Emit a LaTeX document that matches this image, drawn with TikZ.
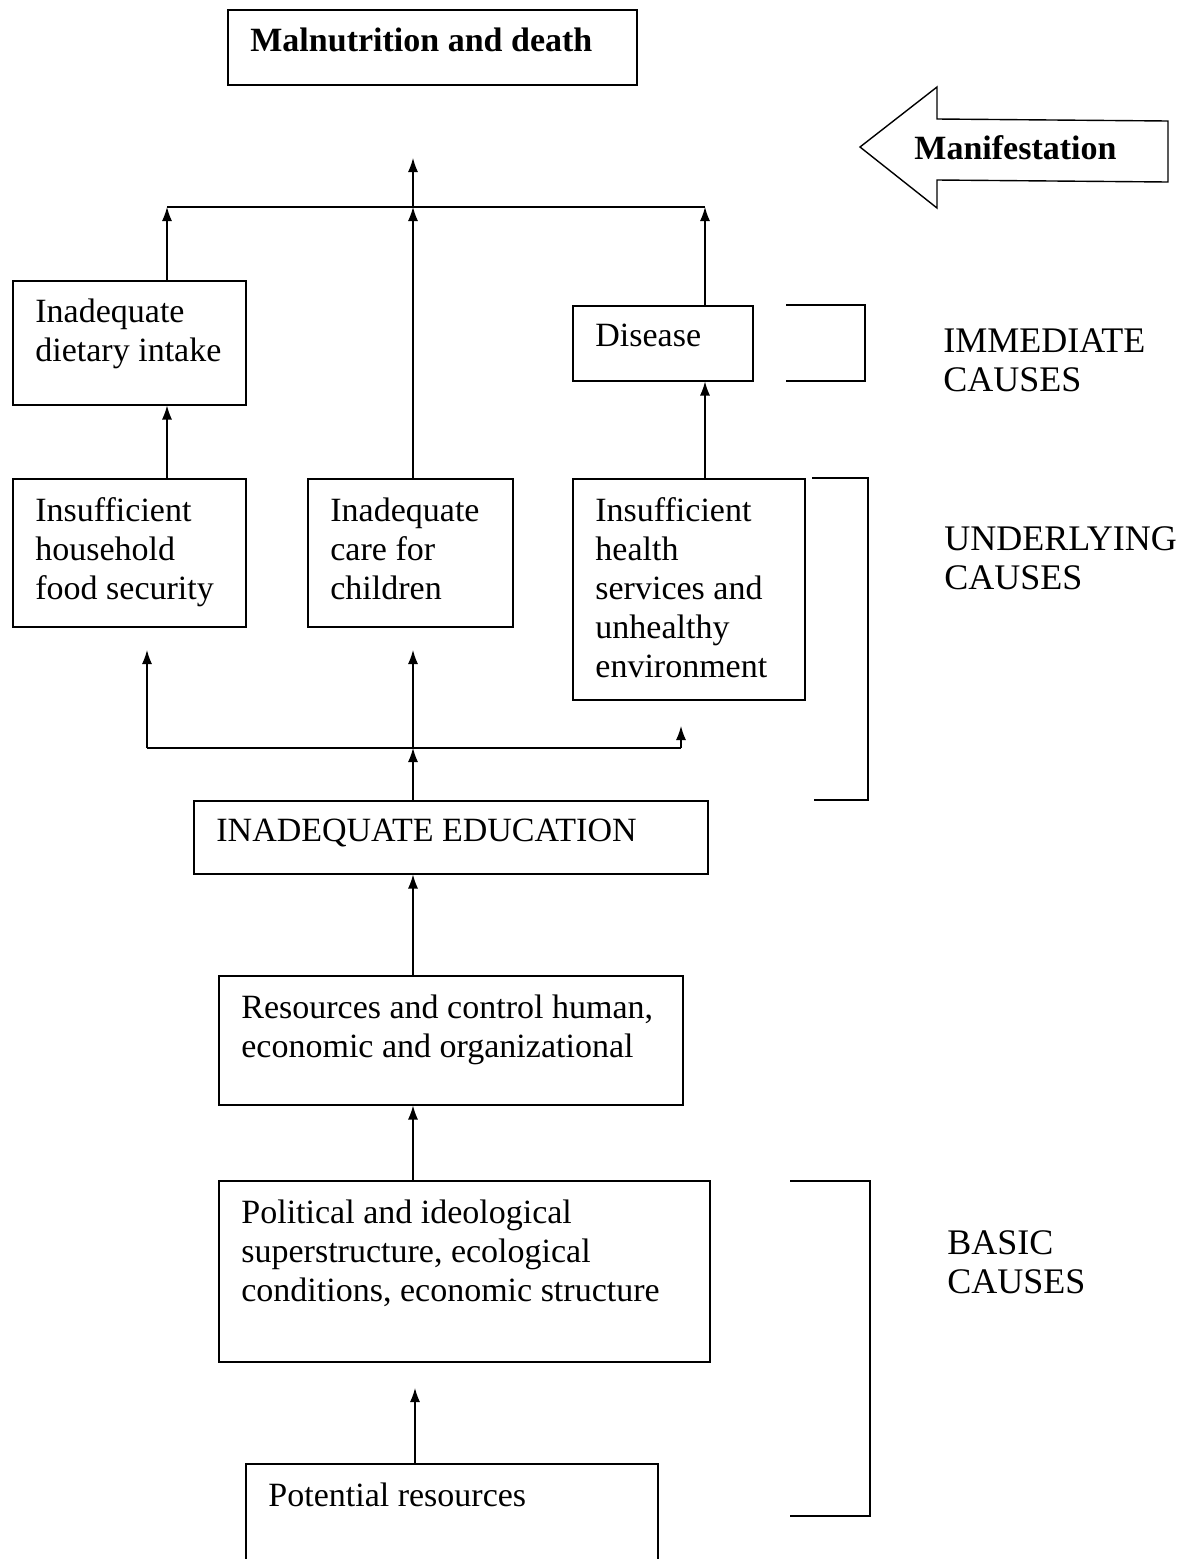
\documentclass[tikz,border=0pt]{standalone}
\usepackage{fontspec}
\setmainfont{Liberation Serif}
\usetikzlibrary{arrows.meta}
\begin{document}
\begin{tikzpicture}
[x=0.5pt,y=-0.5pt,
  boxdecorate/.style={shape=rectangle,draw,line width=0.75pt,inner sep=0pt},%
  textdecorate/.style={inner sep=0pt,align=left,font=\fontsize{17}{19.5}\selectfont},%
  sidedecorate/.style={textdecorate,font=\fontsize{18}{19.5}\selectfont},%
  linedecorate/.style={-,line width=0.6pt},%
  arrowdecorate/.style={-{Latex[length=7pt,width=5pt]},line width=0.6pt}]
\clip (0,0) rectangle (1195,1559);
%% boxes with their texts
\foreach \boxname/\x/\y/\w/\h/\txt in {
  death/227/9/409/75/{\textbf{Malnutrition and death}},
  diet/12/280/233/124/{Inadequate\\dietary intake},
  disease/572/305/180/75/{Disease},
  food/12/478/233/148/{Insufficient\\household\\food security},
  care/307/478/205/148/{Inadequate\\care for\\children},
  health/572/478/232/221/{Insufficient\\health\\services and\\unhealthy\\environment},
  educ/193/800/514/73/{INADEQUATE EDUCATION},
  resource/218/975/464/129/{Resources and control human,\\economic and organizational},
  political/218/1180/491/181/{Political and ideological\\superstructure, ecological\\conditions, economic structure},
  potential/245/1463/412/160/{Potential resources}} {
  \node (\boxname) at (\x,\y) [boxdecorate,anchor=north west,
    minimum width=\w*0.5pt,minimum height=\h*0.5pt] {};
  \node (\boxname-txt) at ([shift={(23,19)}]\boxname.north west)
    [textdecorate,anchor=north west] {\txt};
}
%% manifestation arrow
\draw[line width=0.7pt] (860,147) -- (937,87) -- (937,119) -- (1168,121)
  -- (1168,182) -- (937,180) -- (937,208) -- cycle;
\node (manifest) at (914,159) [textdecorate,anchor=base west] {\textbf{Manifestation}};
%% side labels and brackets
\node (immediate) at (943,328) [sidedecorate,anchor=north west] {IMMEDIATE\\CAUSES};
\node (underlying) at (944,526) [sidedecorate,anchor=north west] {UNDERLYING\\CAUSES};
\node (basic) at (947,1230) [sidedecorate,anchor=north west] {BASIC\\CAUSES};
\draw[linedecorate] (786,305) -- (865,305) -- (865,381) -- (786,381);
\draw[linedecorate] (812,478) -- (868,478) -- (868,800) -- (814,800);
\draw[linedecorate] (790,1181) -- (870,1181) -- (870,1516) -- (790,1516);
%% junction points
\coordinate (joinL) at (167,207);
\coordinate (joinM) at (413,207);
\coordinate (joinR) at (705,207);
\coordinate (toDeath) at (413,158);
\coordinate (lowL) at (147,748);
\coordinate (lowM) at (413,748);
\coordinate (lowR) at (681,748);
\coordinate (upFood) at (147,650);
\coordinate (upCare) at (413,650);
\coordinate (upHealth) at (681,726);
\coordinate (upPolitical) at (415,1388);
%% edges or lines
\draw[linedecorate] (joinL) -- (joinR);
\draw[linedecorate] (lowL) -- (lowR);
\foreach \startnode/\endnode in {joinL |- diet.north/joinL, joinM |- care.north/joinM,
  joinR |- disease.north/joinR, joinM/toDeath, joinL |- food.north/joinL |- diet.south,
  joinR |- health.north/joinR |- disease.south, lowL/upFood, lowM/upCare, lowR/upHealth,
  lowM |- educ.north/lowM, lowM |- resource.north/lowM |- educ.south,
  lowM |- political.north/lowM |- resource.south, upPolitical |- potential.north/upPolitical} {
  \draw[arrowdecorate] (\startnode) -- (\endnode);
}
\end{tikzpicture}
\end{document}
